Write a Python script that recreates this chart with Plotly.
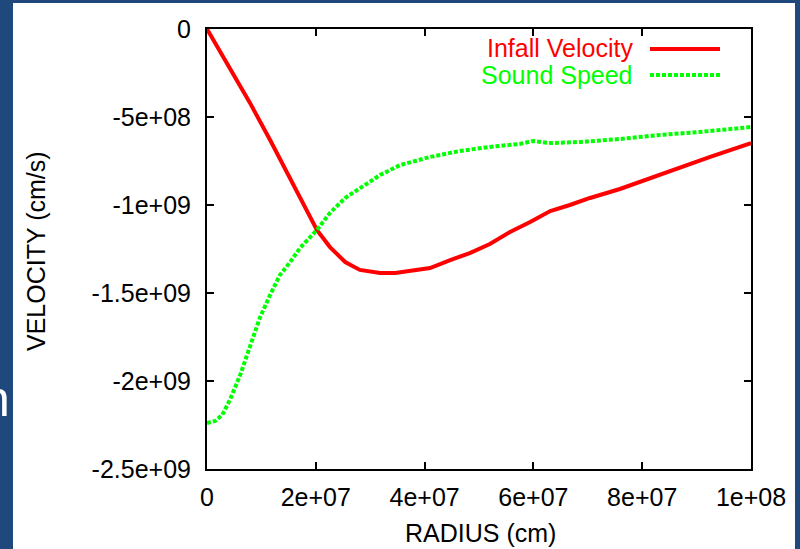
import plotly.graph_objects as go

# ---- data ----
radius_infall = [0, 4.2e6, 7.9e6, 11.6e6, 15.3e6, 18.0e6, 20.2e6, 22.6e6, 25.4e6, 28.1e6,
                 31.8e6, 34.6e6, 37.3e6, 41.0e6, 44.7e6, 48.3e6, 52.0e6, 55.7e6, 59.4e6,
                 63.1e6, 66.7e6, 70.4e6, 75.9e6, 81.4e6, 86.9e6, 92.5e6, 100e6]
infall_velocity = [0, -0.222e9, -0.420e9, -0.631e9, -0.847e9, -1.011e9, -1.142e9, -1.239e9,
                   -1.324e9, -1.369e9, -1.386e9, -1.386e9, -1.375e9, -1.358e9, -1.313e9,
                   -1.273e9, -1.222e9, -1.153e9, -1.097e9, -1.034e9, -1.000e9, -0.960e9,
                   -0.909e9, -0.847e9, -0.790e9, -0.727e9, -0.648e9]

radius_sound = [0, 1.5e6, 2.8e6, 4.2e6, 6.1e6, 7.9e6, 9.7e6, 11.6e6, 13.4e6, 15.3e6, 17.1e6,
                20.2e6, 22.6e6, 25.4e6, 28.1e6, 31.8e6, 35.5e6, 41.0e6, 46.5e6, 52.0e6,
                57.5e6, 59.9e6, 63.1e6, 68.6e6, 75.9e6, 83.3e6, 90.6e6, 100e6]
sound_speed = [-2.239e9, -2.227e9, -2.193e9, -2.108e9, -1.966e9, -1.795e9, -1.642e9, -1.511e9,
               -1.398e9, -1.324e9, -1.244e9, -1.142e9, -1.045e9, -0.960e9, -0.903e9, -0.830e9,
               -0.773e9, -0.727e9, -0.693e9, -0.670e9, -0.653e9, -0.636e9, -0.648e9, -0.642e9,
               -0.625e9, -0.602e9, -0.585e9, -0.557e9]

x_tickvals = [0, 2e7, 4e7, 6e7, 8e7, 1e8]
x_ticktext = ["0", "2e+07", "4e+07", "6e+07", "8e+07", "1e+08"]
y_tickvals = [0, -5e8, -1e9, -1.5e9, -2e9, -2.5e9]
y_ticktext = ["0", "-5e+08", "-1e+09", "-1.5e+09", "-2e+09", "-2.5e+09"]

series_names = ["Infall Velocity", "Sound Speed"]

# ---- layout geometry ----
W, H = 800, 549
L, R, T, B = 207, 751, 29, 469
PW, PH = R - L, B - T


def px(x):
    return (x - L) / PW


def py(y):
    return 1 - (y - T) / PH


FONT = "Liberation Sans, Arial, sans-serif"
RED = "#ff0000"
GREEN = "#00ff00"
SLIDE = "#1f497d"

fig = go.Figure()
fig.add_trace(go.Scatter(x=radius_infall, y=infall_velocity, mode="lines",
                         name=series_names[0], line=dict(color=RED, width=4),
                         showlegend=False))
fig.add_trace(go.Scatter(x=radius_sound, y=sound_speed, mode="lines",
                         name=series_names[1], line=dict(color=GREEN, width=4, dash="4px,2px"),
                         showlegend=False))

axis_common = dict(showline=True, linecolor="black", linewidth=2, mirror="ticks",
                   ticks="inside", ticklen=7, tickwidth=1.5, tickcolor="black",
                   showgrid=False, zeroline=False,
                   tickfont=dict(family=FONT, size=25, color="black"))

fig.update_xaxes(range=[0, 1e8], tickmode="array", tickvals=x_tickvals,
                 ticktext=x_ticktext, ticklabelstandoff=5, **axis_common)
fig.update_yaxes(range=[-2.5e9, 0], tickmode="array", tickvals=y_tickvals,
                 ticktext=y_ticktext, ticklabelstandoff=9, **axis_common)

shapes = [
    # white slide panel
    dict(type="rect", xref="paper", yref="paper", x0=px(13), x1=px(795),
         y0=py(560), y1=py(3), fillcolor="white", line=dict(width=0), layer="below"),
    # legend samples
    dict(type="line", xref="paper", yref="paper", x0=px(650), x1=px(720),
         y0=py(49), y1=py(49), line=dict(color=RED, width=4)),
    dict(type="line", xref="paper", yref="paper", x0=px(650), x1=px(720),
         y0=py(75), y1=py(75), line=dict(color=GREEN, width=4, dash="4px,2px")),
]

annotations = [
    dict(text=series_names[0], xref="paper", yref="paper", x=px(635), y=py(48),
         xanchor="right", yanchor="middle", showarrow=False,
         font=dict(family=FONT, size=25, color=RED)),
    dict(text=series_names[1], xref="paper", yref="paper", x=px(635), y=py(75),
         xanchor="right", yanchor="middle", showarrow=False,
         font=dict(family=FONT, size=25, color=GREEN)),
    dict(text="RADIUS (cm)", xref="paper", yref="paper", x=px(480), y=py(533),
         xanchor="center", yanchor="middle", showarrow=False,
         font=dict(family=FONT, size=25, color="black")),
    dict(text="VELOCITY (cm/s)", xref="paper", yref="paper", x=px(36), y=py(251),
         xanchor="center", yanchor="middle", showarrow=False, textangle=-90,
         font=dict(family=FONT, size=25, color="black")),
    dict(text="n", xref="paper", yref="paper", x=px(12), y=py(399),
         xanchor="right", yanchor="middle", showarrow=False,
         font=dict(family=FONT, size=50, color="white")),
]

fig.update_layout(width=W, height=H, margin=dict(l=L, r=W - R, t=T, b=H - B),
                  paper_bgcolor=SLIDE, plot_bgcolor="white",
                  shapes=shapes, annotations=annotations, showlegend=False)

fig.write_html("out.html")
